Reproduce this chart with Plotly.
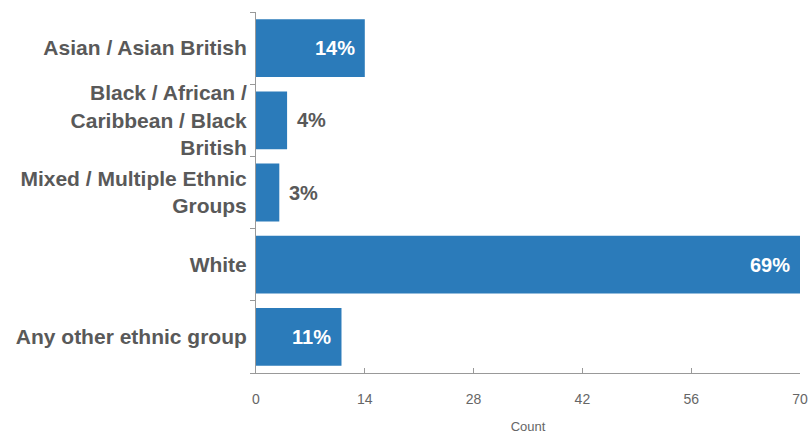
import plotly.graph_objects as go

categories = ["Asian / Asian British", "Black / African /<br>Caribbean / Black<br>British",
              "Mixed / Multiple Ethnic<br>Groups", "White", "Any other ethnic group"]
counts = [14, 4, 3, 70, 11]
pct_labels = ["14%", "4%", "3%", "69%", "11%"]
label_inside = [True, False, False, True, True]
x_ticks = [0, 14, 28, 42, 56, 70]

BAR = "#2b7bba"
GRAY = "#595959"
AX = "#666666"

fig = go.Figure()
fig.add_trace(go.Bar(
    y=categories, x=counts, orientation="h",
    marker=dict(color=BAR, line=dict(width=0)),
    width=0.8, hoverinfo="skip",
))

for cat, val, lab, ins in zip(categories, counts, pct_labels, label_inside):
    fig.add_annotation(
        x=val, y=cat, text=f"<b>{lab}</b>", showarrow=False,
        xanchor="right" if ins else "left", xshift=-8 if ins else 8,
        font=dict(family="Liberation Sans, Arial", size=20,
                  color="white" if ins else GRAY),
    )

fig.update_layout(
    width=810, height=434,
    margin=dict(l=256, r=10, t=12, b=61, autoexpand=False),
    plot_bgcolor="white", paper_bgcolor="white",
    showlegend=False,
    bargap=0.2,
)
fig.update_xaxes(
    range=[0, 70], tickvals=x_ticks, showgrid=False, zeroline=False,
    showline=True, linecolor="#999", linewidth=1,
    ticks="inside", ticklen=5, tickcolor="#999", automargin=False,
    ticklabelstandoff=13,
    tickfont=dict(family="Liberation Sans, Arial", size=14, color=AX),
    title=dict(text="Count", font=dict(family="Liberation Sans, Arial", size=13, color=AX), standoff=17),
)
fig.update_yaxes(
    categoryorder="array", categoryarray=categories[::-1],
    showgrid=False, showline=True, linecolor="#999", linewidth=1, automargin=False,
    ticks="outside", ticklen=5, tickcolor="#999", tickson="boundaries",
    ticklabelstandoff=4,
    tickfont=dict(family="Liberation Sans, Arial", size=21, color=GRAY, weight="bold"),
)

fig.write_html("out.html")
